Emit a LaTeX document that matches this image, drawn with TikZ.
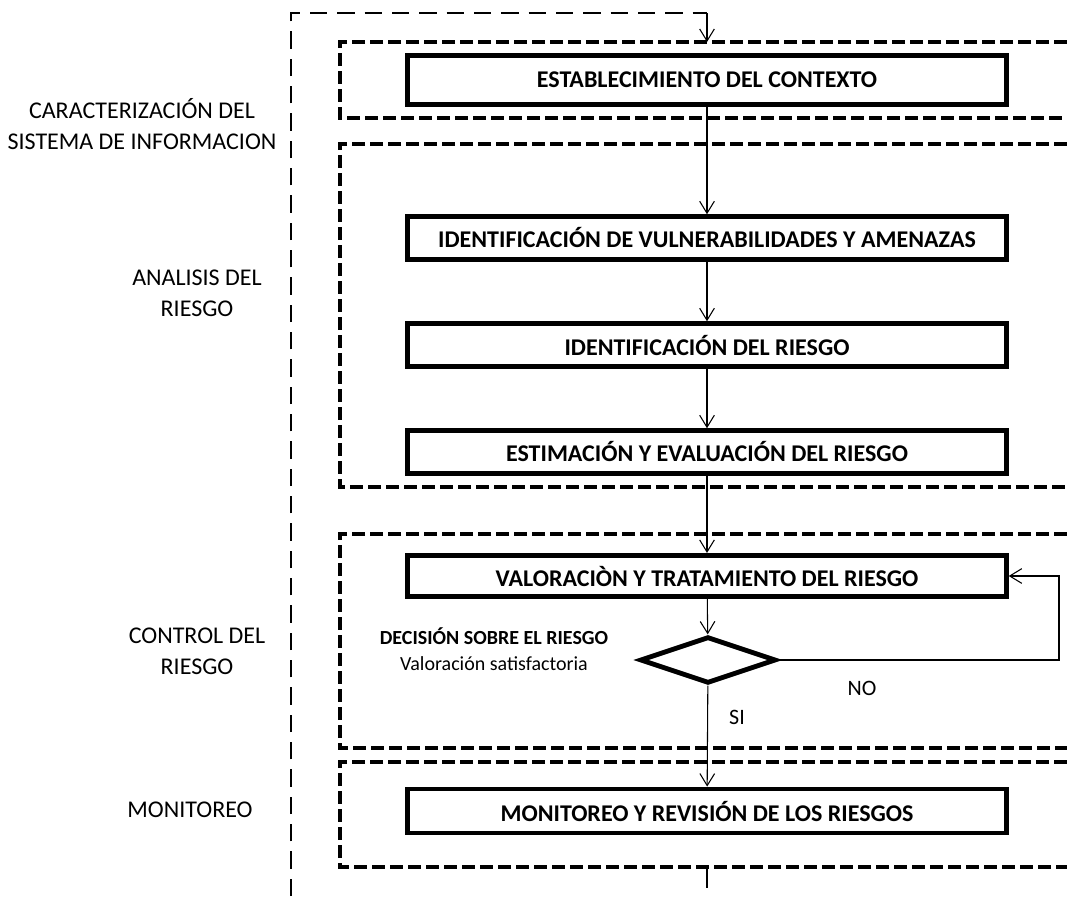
\documentclass[tikz,border=0pt]{standalone}
\usepackage{fontspec}
\setmainfont{Carlito}
\usetikzlibrary{arrows.meta,shapes.geometric}

\tikzset{
  stepbox/.style={draw, line width=3.6pt, minimum width=449pt, minimum height=37pt,
    inner sep=0pt, font=\fontsize{18}{22}\selectfont\bfseries},
  frame/.style={line width=3pt, dash pattern=on 9.5pt off 4pt},
  outer/.style={line width=1.5pt, dash pattern=on 13pt off 7.5pt},
  flow/.style={line width=0.8pt, -{Straight Barb[length=9pt,width=11pt]}},
  phase/.style={align=center, font=\fontsize{18}{23.5}\selectfont},
}

\begin{document}
\begin{tikzpicture}[x=0.75pt,y=-0.75pt]
  \useasboundingbox (0,0) rectangle (1067,896);

  % Phase frames (open to the right)
  \draw[frame] (1067,42) -- (340,42) -- (340,118) -- (1067,118);
  \draw[frame] (1067,144) -- (340,144) -- (340,487) -- (1067,487);
  \draw[frame] (1067,534) -- (340,534) -- (340,748) -- (1067,748);
  \draw[frame] (1067,762) -- (340,762) -- (340,867) -- (1067,867);

  % Phase labels
  \node[phase] (lbcar) at (142,124) {CARACTERIZACIÓN DEL\\SISTEMA DE INFORMACION};
  \node[phase] (lbana) at (197,293) {ANALISIS DEL\\RIESGO};
  \node[phase] (lbcon) at (197,651) {CONTROL DEL\\RIESGO};
  \node[phase] (lbmon) at (190,810) {MONITOREO};

  % Steps
  \node[stepbox] (ctx) at (707,80) {ESTABLECIMIENTO DEL CONTEXTO};
  \node[stepbox, minimum height=32pt] (vuln) at (707,238) {IDENTIFICACIÓN DE VULNERABILIDADES Y AMENAZAS};
  \node[stepbox, minimum height=32pt] (ries) at (707,345) {IDENTIFICACIÓN DEL RIESGO};
  \node[stepbox, minimum height=32pt] (estim) at (707,452) {ESTIMACIÓN Y EVALUACIÓN DEL RIESGO};
  \node[stepbox, minimum height=31pt] (valor) at (707,576) {VALORACIÒN Y TRATAMIENTO DEL RIESGO};
  \node[stepbox, minimum height=33pt] (monit) at (707,811) {MONITOREO Y REVISIÓN DE LOS RIESGOS};

  % Decision
  \node[draw, diamond, line width=3.6pt, minimum width=102pt, minimum height=35pt,
    inner sep=0pt] (dec) at (708,660) {};
  \node[align=center, font=\fontsize{15}{19}\selectfont] (dectxt) at (494,649)
    {\textbf{DECISIÓN SOBRE EL RIESGO}\\Valoración satisfactoria};

  % Flow
  \draw[flow] (ctx) -- (vuln);
  \draw[flow] (vuln) -- (ries);
  \draw[flow] (ries) -- (estim);
  \draw[flow] (estim) -- (valor);
  \draw[flow] (valor) -- (dec);
  \draw[flow] (dec) -- (monit);
  \node[font=\fontsize{16.5}{20}\selectfont] (si) at (737,717) {SI};

  \coordinate (loop) at (1059,660);
  \draw[flow] (dec.east) -- (loop) |- (valor.east);
  \node[font=\fontsize{16.5}{20}\selectfont] (no) at (862,688) {NO};

  % Feedback around the process
  \coordinate (outbot) at (291,896);
  \coordinate (outtop) at (291,13);
  \coordinate (outend) at (707,13);
  \coordinate (f1top) at (707,42);
  \draw[outer] (outbot) -- (outtop) -- (outend);
  \draw[line width=0.8pt, -{Straight Barb[length=9pt,width=11pt]}] (outend) -- (f1top);
  \coordinate (f4bot) at (707,867);
  \coordinate (tail) at (707,888);
  \draw[line width=0.8pt] (f4bot) -- (tail);
\end{tikzpicture}
\end{document}
